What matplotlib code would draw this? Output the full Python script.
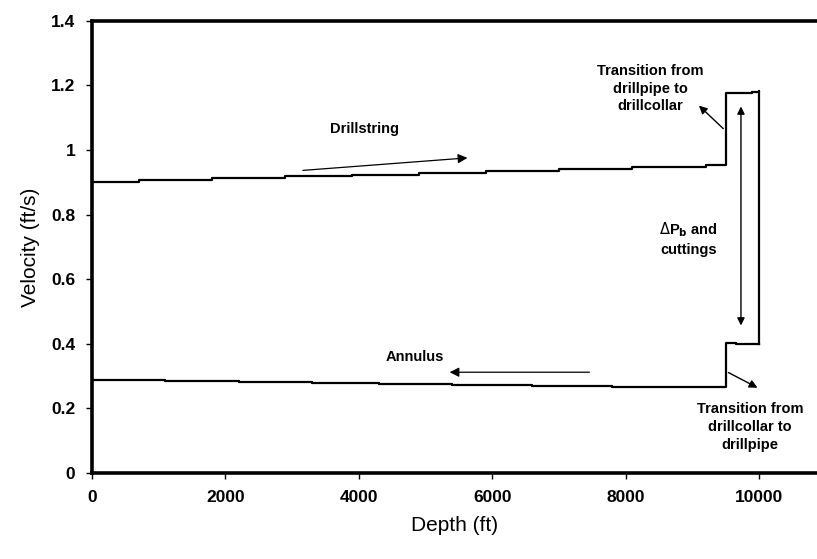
import matplotlib
matplotlib.use("Agg")
import matplotlib.pyplot as plt
from matplotlib.ticker import FuncFormatter

plt.rcParams['font.family'] = ['Liberation Sans', 'DejaVu Sans']

# drillstring: flows down the pipe, then through the collar to the bit
drill_depth = [0, 700, 1800, 2900, 3900, 4900, 5900, 7000, 8100, 9200, 9500,
               9500, 9900, 10000, 10000]
drill_vel = [0.902, 0.907, 0.912, 0.918, 0.923, 0.928, 0.934, 0.940, 0.946, 0.953, 0.955,
             1.175, 1.178, 1.182, 0.400]

# annulus: back up from the bit
ann_depth = [10000, 9660, 9500, 9500, 8900, 7800, 6600, 5400, 4300, 3300, 2200, 1100, 0]
ann_vel = [0.398, 0.401, 0.401, 0.265, 0.265, 0.268, 0.272, 0.275, 0.278, 0.281, 0.284, 0.287, 0.290]

xticks = [0, 2000, 4000, 6000, 8000, 10000]
yticks = [0, 0.2, 0.4, 0.6, 0.8, 1.0, 1.2, 1.4]

fig = plt.figure(figsize=(8.17, 5.59), dpi=100)
ax = fig.add_axes([0.1126, 0.1538, 0.8874, 0.8092])

ax.plot(drill_depth, drill_vel, color='black', lw=1.6, drawstyle='steps-post')
ax.plot(ann_depth, ann_vel, color='black', lw=1.6, drawstyle='steps-post')

ax.set_xlim(0, 10870)
ax.set_ylim(0, 1.4)
ax.set_xticks(xticks)
ax.set_yticks(yticks)
ax.yaxis.set_major_formatter(FuncFormatter(lambda v, p: '%g' % v))
ax.tick_params(direction='out', length=4, width=1, labelsize=12.5, pad=8)
for lab in ax.get_xticklabels() + ax.get_yticklabels():
    lab.set_fontweight('bold')

for s in ['left', 'bottom', 'top']:
    ax.spines[s].set_linewidth(2.6)
ax.spines['right'].set_visible(False)

ax.set_xlabel('Depth (ft)', fontsize=15, labelpad=8)
ax.set_ylabel('Velocity (ft/s)', fontsize=15, labelpad=8)

tkw = dict(fontsize=10.5, fontweight='bold', ha='center', va='center')

ax.text(4090, 1.066, 'Drillstring', **tkw)
ax.annotate('', xy=(5670, 0.976), xytext=(3120, 0.936),
            arrowprops=dict(arrowstyle='-|>', color='black', lw=0.9, mutation_scale=14))

ax.text(4840, 0.358, 'Annulus', **tkw)
ax.annotate('', xy=(5320, 0.312), xytext=(7500, 0.312),
            arrowprops=dict(arrowstyle='-|>', color='black', lw=0.9, mutation_scale=14))

ax.text(8370, 1.19, 'Transition from\ndrillpipe to\ndrillcollar', linespacing=1.35, **tkw)
ax.annotate('', xy=(9070, 1.143), xytext=(9495, 1.06),
            arrowprops=dict(arrowstyle='-|>', color='black', lw=1.0, mutation_scale=12))

ax.text(8940, 0.726, '$\\Delta$P$_\\mathbf{b}$ and\ncuttings', linespacing=1.35, **tkw)
ax.annotate('', xy=(9730, 1.143), xytext=(9730, 0.448),
            arrowprops=dict(arrowstyle='<|-|>', color='black', lw=1.0, mutation_scale=11))

ax.text(9870, 0.142, 'Transition from\ndrillcollar to\ndrillpipe', linespacing=1.35, **tkw)
ax.annotate('', xy=(10015, 0.260), xytext=(9505, 0.315),
            arrowprops=dict(arrowstyle='-|>', color='black', lw=1.0, mutation_scale=12))

fig.savefig('out.png', dpi=100)
